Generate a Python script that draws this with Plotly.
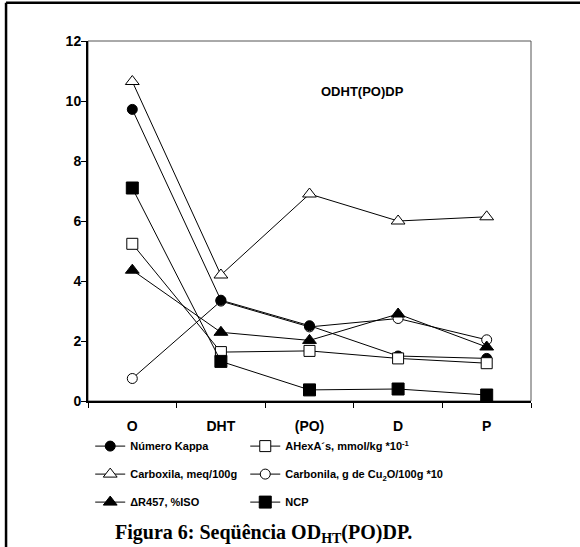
import plotly.graph_objects as go

stages = ["O", "DHT", "(PO)", "D", "P"]
kappa = [9.72, 3.36, 2.51, 1.50, 1.42]
ahexa = [5.24, 1.63, 1.67, 1.42, 1.26]
carboxila = [10.65, 4.20, 6.90, 6.00, 6.14]
carbonila = [0.75, 3.33, 2.47, 2.75, 2.04]
delta_r457 = [4.36, 2.29, 2.02, 2.90, 1.80]
ncp = [7.10, 1.32, 0.37, 0.40, 0.20]

series = [
    # name, values, symbol, fill, size, legend rank, legend id
    ("Carbonila, g de Cu<sub>2</sub>O/100g *10", carbonila, "circle", "white", 10, 2, "legend2"),
    ("Carboxila, meq/100g", carboxila, "triangle-up", "white", 12, 2, "legend"),
    ("\u0394R457, %ISO", delta_r457, "triangle-up", "black", 12, 3, "legend"),
    ("Número Kappa", kappa, "circle", "black", 10, 1, "legend"),
    ("AHexA´s, mmol/kg *10<sup>-1</sup>", ahexa, "square", "white", 11, 1, "legend2"),
    ("NCP", ncp, "square", "black", 12, 3, "legend2"),
]

fig = go.Figure()
for name, vals, sym, fill, size, rank, leg in series:
    fig.add_trace(go.Scatter(
        x=stages, y=vals, name=name, mode="lines+markers",
        line=dict(color="black", width=1),
        marker=dict(symbol=sym, color=fill, size=size, line=dict(color="black", width=1)),
        legendrank=rank, legend=leg, legendgroup=name,
    ))

tick_font = dict(family="Arial, Liberation Sans", size=14, color="black", weight="bold")
leg_font = dict(family="Arial, Liberation Sans", size=11, color="black", weight="bold")

fig.update_layout(
    width=580, height=547,
    margin=dict(l=88, r=49, t=41, b=146),
    paper_bgcolor="white", plot_bgcolor="white",
    font=dict(family="Arial, Liberation Sans", size=12, color="black"),
    showlegend=True,
    legend=dict(
        orientation="v", x=0.005, y=-0.085, xanchor="left", yanchor="top",
        font=leg_font, tracegroupgap=9, itemwidth=30, bgcolor="rgba(0,0,0,0)",
    ),
    legend2=dict(
        orientation="v", x=0.355, y=-0.085, xanchor="left", yanchor="top",
        font=leg_font, tracegroupgap=9, itemwidth=30, bgcolor="rgba(0,0,0,0)",
    ),
    xaxis=dict(
        type="category", tickson="boundaries", range=[-0.5, 4.5],
        showline=True, linecolor="black", linewidth=2,
        ticks="outside", ticklen=5, tickcolor="black", tickwidth=1,
        tickfont=tick_font, ticklabelstandoff=11,
        showgrid=False, zeroline=False, fixedrange=True,
    ),
    yaxis=dict(
        range=[0, 12], dtick=2, tick0=0,
        showline=True, linecolor="black", linewidth=2,
        ticks="outside", ticklen=5, tickcolor="black", tickwidth=1,
        tickfont=tick_font, ticklabelstandoff=-3,
        showgrid=False, zeroline=False, fixedrange=True,
    ),
    shapes=[
        dict(type="rect", xref="paper", yref="paper", x0=0, x1=1, y0=0, y1=1,
             line=dict(color="#555555", width=1), layer="below"),
        dict(type="line", xref="paper", yref="paper", x0=-0.185, x1=1.2, y0=1.106, y1=1.106,
             line=dict(color="black", width=2.5)),
        dict(type="line", xref="paper", yref="paper", x0=-0.185, x1=-0.185, y0=1.106, y1=-0.42,
             line=dict(color="black", width=2.5)),
    ],
    annotations=[
        dict(text="<b>ODHT(PO)DP</b>", x=2.6, y=10.32, xref="x", yref="y", showarrow=False,
             font=dict(family="Arial, Liberation Sans", size=13, color="black")),
        dict(text="<b>Figura 6: Seqüência OD<sub>HT</sub>(PO)DP.</b>", x=0.397, y=-0.368,
             xref="paper", yref="paper", showarrow=False, xanchor="center", yanchor="middle",
             font=dict(family="Liberation Serif, Times New Roman", size=20, color="black")),
    ],
)

fig.write_html("out.html")
